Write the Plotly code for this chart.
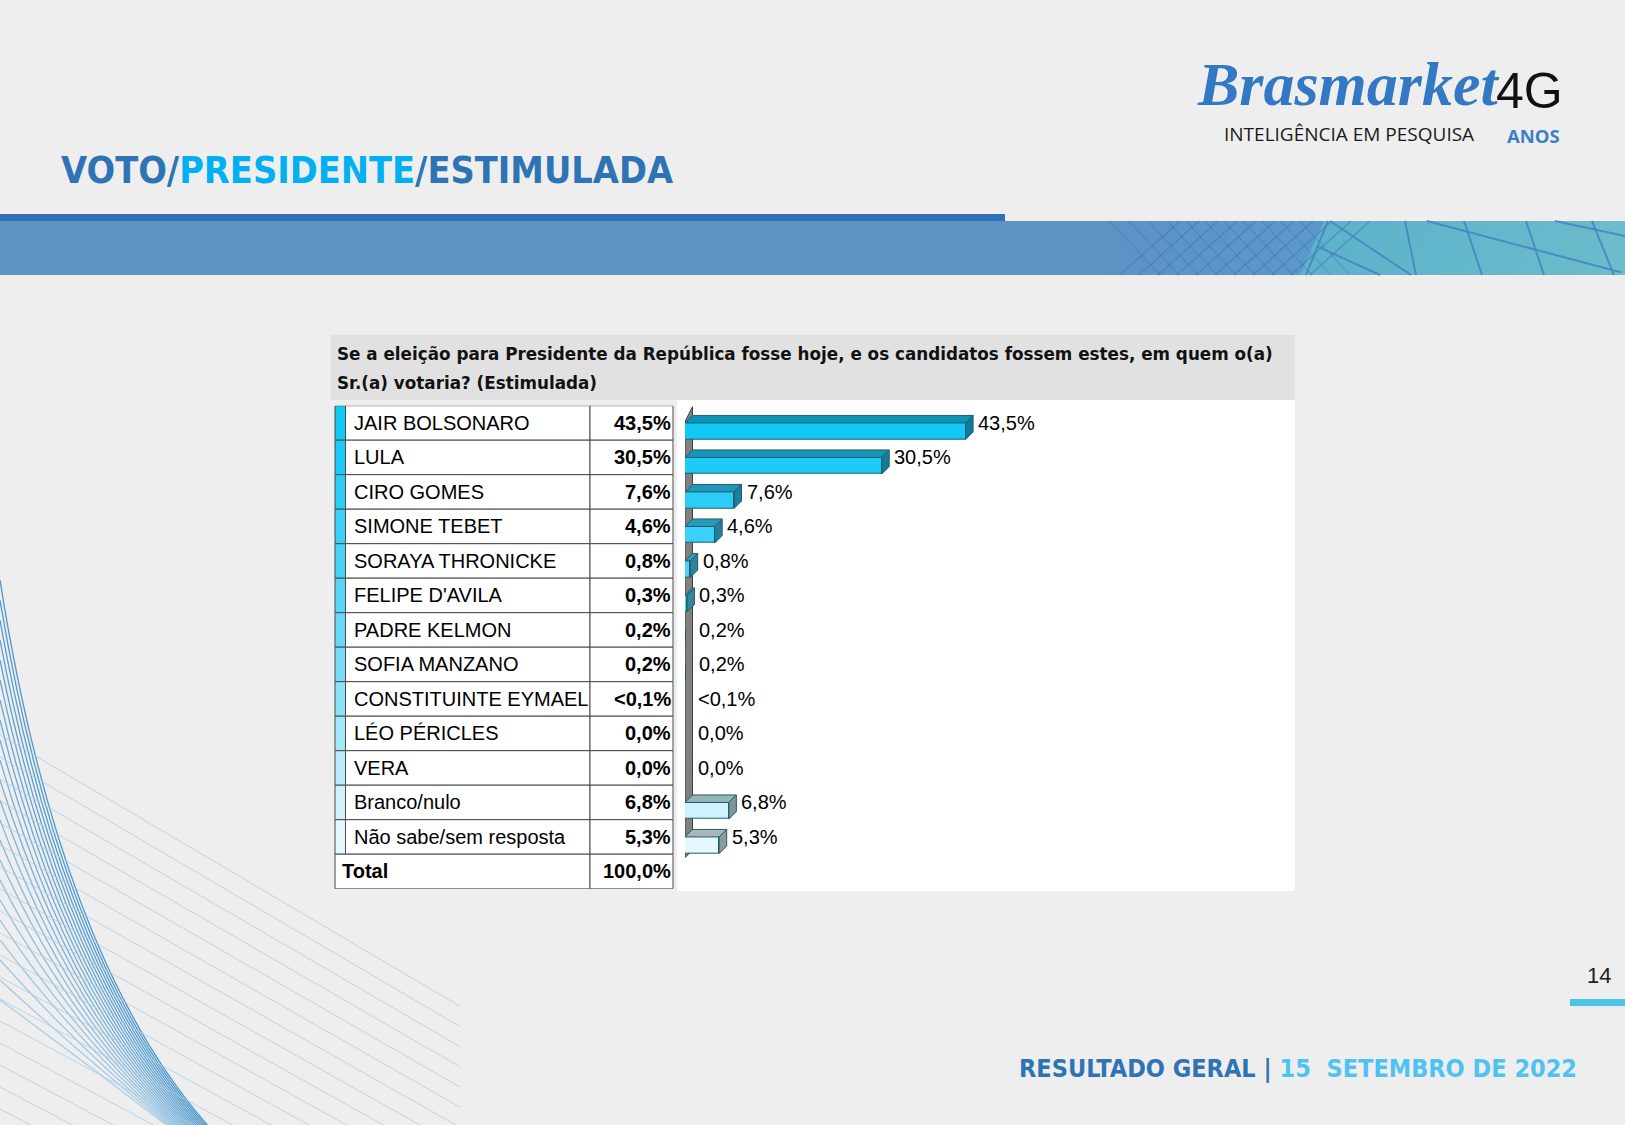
import plotly.graph_objects as go

# ---------------- data ----------------
categories = ["JAIR BOLSONARO", "LULA", "CIRO GOMES", "SIMONE TEBET", "SORAYA THRONICKE",
              "FELIPE D'AVILA", "PADRE KELMON", "SOFIA MANZANO", "CONSTITUINTE EYMAEL",
              "LÉO PÉRICLES", "VERA", "Branco/nulo", "Não sabe/sem resposta"]
values = [43.5, 30.5, 7.6, 4.6, 0.8, 0.3, 0.2, 0.2, 0.05, 0.0, 0.0, 6.8, 5.3]
value_labels = ["43,5%", "30,5%", "7,6%", "4,6%", "0,8%", "0,3%", "0,2%", "0,2%", "<0,1%",
                "0,0%", "0,0%", "6,8%", "5,3%"]
total_label = "Total"
total_value = "100,0%"
question_lines = ["Se a eleição para Presidente da República fosse hoje, e os candidatos fossem estes, em quem o(a)",
                  "Sr.(a) votaria? (Estimulada)"]

# ---------------- styles ----------------
W, H = 1625, 1125
row_colors = ['#12c8f5', '#1ecbf6', '#2bcdf6', '#3ad0f7', '#48d3f7', '#57d6f8', '#67d9f8',
              '#79ddf9', '#8ce2f9', '#a2e8fa', '#b8edfb', '#cef3fc', '#e5f8fd']
PX_PER_PCT = 6.45
ROW_PX = 34.5
DEPTH_PX = 7.5
d = DEPTH_PX / PX_PER_PCT
dy = DEPTH_PX / ROW_PX
BAR_W = 0.48
EDGE = '#1d5d70'
NARROW = "Liberation Sans Narrow, Arial Narrow, DejaVu Sans Condensed, Liberation Sans"
ARIAL = "Liberation Sans, Arial"


def px(x):
    return x / W


def py(y):
    return 1 - y / H


def hex2rgb(h):
    h = h.lstrip('#')
    return tuple(int(h[i:i + 2], 16) for i in (0, 2, 4))


def shade(h, f):
    r, g, b = hex2rgb(h)
    return 'rgb(%d,%d,%d)' % (r * f, g * f, b * f)


def mix(a, b, t):
    ra, ga, ba = hex2rgb(a)
    rb, gb, bb = hex2rgb(b)
    return 'rgb(%d,%d,%d)' % (ra + (rb - ra) * t, ga + (gb - ga) * t, ba + (bb - ba) * t)


n = len(categories)
idx = list(range(n))

fig = go.Figure()

# front faces of the bars
fig.add_trace(go.Bar(
    y=idx, x=values, orientation='h', width=BAR_W, offset=0,
    marker=dict(color=row_colors, line=dict(color=EDGE, width=1)),
    hoverinfo='skip', showlegend=False))

# 3D top and side faces (tiny bars are hidden by the wall in the original)
for i, v in enumerate(values):
    if v < 0.25:
        continue
    top = [(0, i), (v, i), (v + d, i - dy), (d, i - dy), (0, i)]
    side = [(v, i), (v + d, i - dy), (v + d, i + BAR_W - dy), (v, i + BAR_W), (v, i)]
    for poly, f in ((top, 0.74), (side, 0.62)):
        fig.add_trace(go.Scatter(
            x=[p[0] for p in poly], y=[p[1] for p in poly], mode='lines', fill='toself',
            fillcolor=shade(row_colors[i], f), line=dict(color=EDGE, width=1),
            hoverinfo='skip', showlegend=False))

shapes = []
annotations = []

# ---------- header band ----------
shapes.append(dict(type='rect', xref='paper', yref='paper', x0=0, x1=1, y0=py(275), y1=py(221),
                   fillcolor='#5e92c3', line=dict(width=0), layer='below'))
steps = 24
for k in range(steps):
    xa = 1100 + (1320 - 1100) * k / steps
    xb = 1100 + (1320 - 1100) * (k + 1) / steps + 1
    shapes.append(dict(type='rect', xref='paper', yref='paper', x0=px(xa), x1=px(xb),
                       y0=py(275), y1=py(221), fillcolor=mix('#5e92c3', '#5a9acb', (k + 1) / steps),
                       line=dict(width=0), layer='below'))
for k in range(steps):
    xa = 1300 + (1625 - 1300) * k / steps
    xb = 1300 + (1625 - 1300) * (k + 1) / steps + 1
    shapes.append(dict(type='path', xref='paper', yref='paper',
                       path='M %f,%f L %f,%f L %f,%f L %f,%f Z' % (
                           px(xa + 24), py(221), px(xb + 24), py(221), px(xb), py(275), px(xa), py(275)),
                       fillcolor=mix('#5db3cc', '#6cbdcb', k / steps), line=dict(width=0), layer='below'))
shapes.append(dict(type='rect', xref='paper', yref='paper', x0=px(1600), x1=1, y0=py(275), y1=py(221),
                   fillcolor='#6cbdcb', line=dict(width=0), layer='below'))
# lattice lines
for k in range(11):
    x0 = 1120 + 19 * k
    shapes.append(dict(type='line', xref='paper', yref='paper', x0=px(x0), y0=py(275),
                       x1=px(x0 + 60), y1=py(221), line=dict(color='rgba(60,110,180,0.45)', width=1.5),
                       layer='below'))
    shapes.append(dict(type='line', xref='paper', yref='paper', x0=px(x0 - 10), y0=py(221),
                       x1=px(x0 + 40), y1=py(275), line=dict(color='rgba(60,110,180,0.35)', width=1.2),
                       layer='below'))
pattern = [((1328, 0), (1306, 1)), ((1330, 0), (1411, 1)), ((1405, 0), (1416, 1)),
           ((1427, 0), (1621, 0.95)), ((1464, 0), (1482, 1)), ((1526, 0), (1544, 1)),
           ((1592, 0), (1614, 1)), ((1555, 0), (1625, 0.28)), ((1317, 0.47), (1380, 1))]
for (xa, ta), (xb, tb) in pattern:
    shapes.append(dict(type='line', xref='paper', yref='paper', x0=px(xa), y0=py(221 + 54 * ta),
                       x1=px(xb), y1=py(221 + 54 * tb), line=dict(color='rgba(70,130,195,0.85)', width=2),
                       layer='below'))
shapes.append(dict(type='rect', xref='paper', yref='paper', x0=0, x1=px(1005), y0=py(221), y1=py(214),
                   fillcolor='#3070b8', line=dict(width=0), layer='below'))

# ---------- decorative curves bottom-left ----------
for k in range(22):
    t = k / 21
    y0 = 580 + 420 * t
    ex = 210 - 40 * t
    cx, cy = 60 + 25 * t, 960 + 102 * t
    shapes.append(dict(type='path', xref='paper', yref='paper',
                       path='M %f,%f Q %f,%f %f,%f' % (px(0), py(y0), px(cx), py(cy), px(ex), py(1128)),
                       line=dict(color=mix('#4f97cc', '#a9cfe7', t), width=1.3), layer='below'))
for k in range(20):
    y0 = 735 + 22 * k
    slope = 0.59 - 0.004 * k
    x_end = min(460, (1128 - y0) / slope)
    shapes.append(dict(type='line', xref='paper', yref='paper', x0=0, y0=py(y0),
                       x1=px(x_end), y1=py(y0 + slope * x_end),
                       line=dict(color='rgba(170,205,230,0.75)', width=1), layer='below'))

# ---------- chart panel ----------
shapes.append(dict(type='rect', xref='paper', yref='paper', x0=px(331), x1=px(1295), y0=py(400), y1=py(335),
                   fillcolor='#e1e1e1', line=dict(width=0), layer='below'))
shapes.append(dict(type='rect', xref='paper', yref='paper', x0=px(677), x1=px(1295), y0=py(891), y1=py(400),
                   fillcolor='#ffffff', line=dict(width=0), layer='below'))

# back wall (axis-referenced so it sits under the bars)
shapes.append(dict(type='path', xref='x', yref='y',
                   path='M 0,-0.04 L %f,%f L %f,%f L 0,12.6 Z' % (d, -0.47, d, 12.6 - dy),
                   fillcolor='#808080', line=dict(color='#404040', width=1), layer='below'))

# ---------- table ----------
TL, TS, TN, TV = 335, 345.5, 590, 673
LINE = dict(color='#4a4a4a', width=1)
for i in range(n):
    shapes.append(dict(type='rect', xref='paper', yref='y', x0=px(TL), x1=px(TS), y0=i - 0.5, y1=i + 0.5,
                       fillcolor=row_colors[i], line=LINE, layer='below'))
    shapes.append(dict(type='rect', xref='paper', yref='y', x0=px(TS), x1=px(TN), y0=i - 0.5, y1=i + 0.5,
                       fillcolor='#ffffff', line=LINE, layer='below'))
    shapes.append(dict(type='rect', xref='paper', yref='y', x0=px(TN), x1=px(TV), y0=i - 0.5, y1=i + 0.5,
                       fillcolor='#ffffff', line=LINE, layer='below'))
    annotations.append(dict(xref='paper', yref='y', x=px(352), y=i, text=categories[i], showarrow=False,
                            xanchor='left', yanchor='middle', font=dict(family=ARIAL, size=20, color='#000')))
    annotations.append(dict(xref='paper', yref='y', x=px(673), y=i, text='<b>%s</b>' % value_labels[i],
                            showarrow=False, xanchor='right', yanchor='middle',
                            font=dict(family=ARIAL, size=20, color='#000')))
    annotations.append(dict(xref='x', yref='y', x=values[i] + d, y=i, text=value_labels[i], showarrow=False,
                            xanchor='left', yanchor='middle', xshift=3,
                            font=dict(family=ARIAL, size=20, color='#000')))
shapes.append(dict(type='rect', xref='paper', yref='y', x0=px(TL), x1=px(TN), y0=n - 0.5, y1=n + 0.5,
                   fillcolor='#ffffff', line=LINE, layer='below'))
shapes.append(dict(type='rect', xref='paper', yref='y', x0=px(TN), x1=px(TV), y0=n - 0.5, y1=n + 0.5,
                   fillcolor='#ffffff', line=LINE, layer='below'))
annotations.append(dict(xref='paper', yref='y', x=px(340), y=n, text='<b>%s</b>' % total_label,
                        showarrow=False, xanchor='left', yanchor='middle',
                        font=dict(family=ARIAL, size=20, color='#000')))
annotations.append(dict(xref='paper', yref='y', x=px(673), y=n, text='<b>%s</b>' % total_value,
                        showarrow=False, xanchor='right', yanchor='middle',
                        font=dict(family=ARIAL, size=20, color='#000')))

# question header (two lines)
for line_text, yc in zip(question_lines, (354, 383)):
    annotations.append(dict(xref='paper', yref='paper', x=px(335), y=py(yc), text='<b>%s</b>' % line_text,
                            showarrow=False, xanchor='left', yanchor='middle', align='left',
                            font=dict(family='DejaVu Sans', size=16.8, color='#111')))

# ---------- titles / logo / footer ----------
annotations.append(dict(xref='paper', yref='paper', x=px(59), y=py(170),
                        text="<b><span style='color:#2e74b5'>VOTO/</span><span style='color:#00b0f0'>PRESIDENTE</span>"
                             "<span style='color:#2e74b5'>/ESTIMULADA</span></b>",
                        showarrow=False, xanchor='left', yanchor='middle',
                        font=dict(family=NARROW, size=37.5)))
annotations.append(dict(xref='paper', yref='paper', x=px(1195), y=py(84), text='Brasmarket',
                        showarrow=False, xanchor='left', yanchor='middle',
                        font=dict(family='Liberation Serif', size=62, color='#3278c2', style='italic',
                                  weight='bold')))
annotations.append(dict(xref='paper', yref='paper', x=px(1494), y=py(91), text='4G',
                        showarrow=False, xanchor='left', yanchor='middle',
                        font=dict(family='Liberation Sans', size=50, color='#111')))
annotations.append(dict(xref='paper', yref='paper', x=px(1222), y=py(134), text='INTELIGÊNCIA EM PESQUISA',
                        showarrow=False, xanchor='left', yanchor='middle',
                        font=dict(family='Open Sans', size=19, color='#1a1a1a')))
annotations.append(dict(xref='paper', yref='paper', x=px(1505), y=py(135), text='<b>ANOS</b>',
                        showarrow=False, xanchor='left', yanchor='middle',
                        font=dict(family='Open Sans', size=18.5, color='#3b7fc4')))
annotations.append(dict(xref='paper', yref='paper', x=px(1613), y=py(975), text='14',
                        showarrow=False, xanchor='right', yanchor='middle',
                        font=dict(family=ARIAL, size=22, color='#222')))
shapes.append(dict(type='rect', xref='paper', yref='paper', x0=px(1570), x1=1, y0=py(1006), y1=py(999),
                   fillcolor='#4cc3e8', line=dict(width=0), layer='below'))
annotations.append(dict(xref='paper', yref='paper', x=px(1579), y=py(1068),
                        text="<b><span style='color:#2e74b5'>RESULTADO GERAL | </span>"
                             "<span style='color:#4fc3f0'>15 &nbsp;SETEMBRO DE 2022</span></b>",
                        showarrow=False, xanchor='right', yanchor='middle',
                        font=dict(family=NARROW, size=25)))

fig.update_layout(
    width=W, height=H, margin=dict(l=0, r=0, t=0, b=0),
    paper_bgcolor='#eeeeee', plot_bgcolor='rgba(0,0,0,0)',
    xaxis=dict(domain=[px(685), px(1295)], range=[0, 610 / PX_PER_PCT], visible=False, fixedrange=True),
    yaxis=dict(domain=[py(405.7 + ROW_PX * 14), py(405.7)], range=[13.5, -0.5], visible=False,
               fixedrange=True),
    shapes=shapes, annotations=annotations, showlegend=False, bargap=0,
)

fig.write_html("out.html", config={'displayModeBar': False},
               post_script="document.body.style.margin='0';document.body.style.padding='0';"
                           "document.body.style.overflow='hidden';")
